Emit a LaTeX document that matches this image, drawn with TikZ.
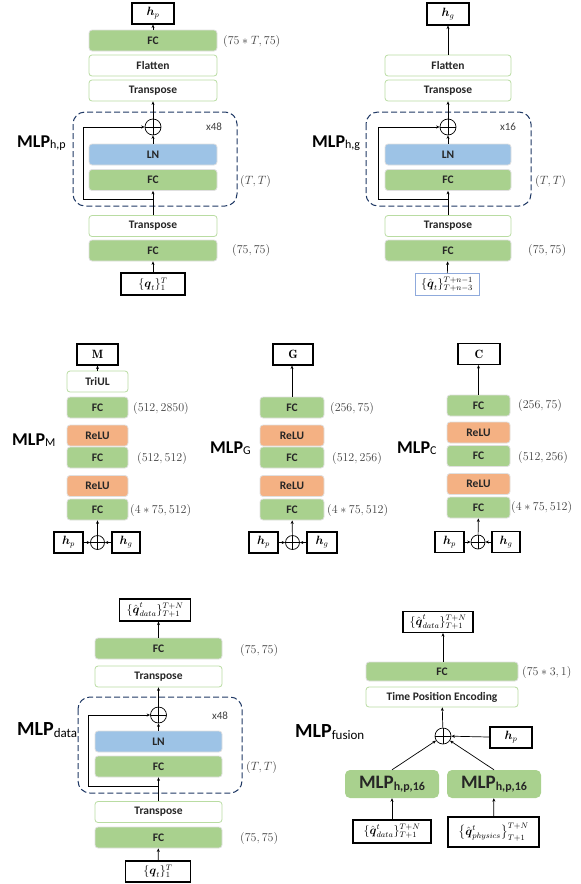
\documentclass[tikz,border=0pt]{standalone}
\usepackage{amsmath,amssymb}
\usepackage{fontspec}
\setsansfont{Carlito}
\usepackage{xcolor}
\usepackage{tikz}
\usetikzlibrary{arrows.meta,positioning}
\definecolor{fcgreen}{HTML}{A9D18E}
\definecolor{lnblue}{HTML}{9DC3E6}
\definecolor{reluorange}{HTML}{F4B183}
\definecolor{paleedge}{HTML}{B9DCA2}
\definecolor{inblue}{HTML}{8FAADC}
\definecolor{navy}{HTML}{1F3864}
\definecolor{dimtext}{HTML}{404040}
\newcommand\boxfont{\fontsize{11.5}{13}\selectfont\sffamily\bfseries}
\newcommand\mlplab[3]{{\fontsize{#1}{#1}\selectfont\sffamily\bfseries MLP}\raisebox{-0.35ex}{\fontsize{#2}{#2}\selectfont\sffamily #3}}
\tikzset{
  blk/.style={rectangle, rounded corners=3pt, inner sep=0pt, minimum height=21pt, font=\boxfont, text=black!85},
  fc/.style={blk, fill=fcgreen, draw=black!12, line width=0.8pt},
  ln/.style={blk, fill=lnblue, draw=black!12, line width=0.8pt},
  relu/.style={blk, fill=reluorange, draw=black!12, line width=0.8pt},
  wbox/.style={blk, fill=white, draw=paleedge, line width=0.8pt},
  outbox/.style={rectangle, draw=black, line width=1.1pt, fill=white, inner sep=0pt, minimum height=21pt, font=\fontsize{12}{14}\selectfont},
  addop/.style={circle, draw=black, line width=0.7pt, minimum size=16pt, inner sep=0pt,
    path picture={\draw[line width=0.7pt] (path picture bounding box.north) -- (path picture bounding box.south)
      (path picture bounding box.west) -- (path picture bounding box.east);}},
  arr/.style={-{Stealth[length=3.5pt,width=3pt]}, line width=0.7pt},
  loopbox/.style={draw=navy, line width=1pt, dash pattern=on 6pt off 3pt, rounded corners=12pt},
  dims/.style={anchor=west, inner sep=0pt, text=dimtext, font=\fontsize{12}{14}\selectfont},
  reps/.style={inner sep=0pt, text=dimtext, font=\fontsize{11}{13}\selectfont\sffamily},
  tag/.style={anchor=west, inner sep=0pt}
}
\begin{document}
\begin{tikzpicture}[x=1pt,y=-1pt]
\useasboundingbox (0,0) rectangle (581,884);

% MLP_{h,p}
\draw[loopbox] (73,112) rectangle (237,206);
\node[outbox, minimum width=42pt] (p1out) at (153,13.5) {$\boldsymbol{h}_p$};
\node[fc, minimum width=128pt] (p1fc3) at (153,40.5) {FC};
\node[wbox, minimum width=128pt] (p1flat) at (153,65.5) {Flatten};
\node[wbox, minimum width=128pt] (p1tr2) at (153,90.5) {Transpose};
\node[addop] (p1add) at (153,127) {};
\node[ln, minimum width=128pt] (p1ln) at (153,154.5) {LN};
\node[fc, minimum width=128pt] (p1fc2) at (153,180) {FC};
\node[wbox, minimum width=128pt] (p1tr1) at (153,226) {Transpose};
\node[fc, minimum width=128pt] (p1fc1) at (153,250.5) {FC};
\node[outbox, minimum width=64pt, minimum height=22pt] (p1in) at (153,284) {$\{\boldsymbol{q}_t\}_1^T$};
\coordinate (p1split) at (153,199);
\coordinate (p1loop) at (83,199);
\node[reps] (p1rep) at (214,127) {x48};
\node[tag] (p1name) at (17,143) {\mlplab{18}{12}{h,p}};
\node[dims] (p1d3) at (223,41) {$(75*T,75)$};
\node[dims] (p1d2) at (240,181) {$(T,T)$};
\node[dims] (p1d1) at (232,250) {$(75,75)$};
\draw[arr] (p1in) -- (p1fc1);
\draw[arr] (p1tr1) -- (p1fc2);
\draw[arr] (p1split) -- (p1loop) |- (p1add.west);
\draw[arr] (p1ln) -- (p1add);
\draw[arr] (p1add) -- (p1tr2);
\draw[arr] (p1fc3) -- (p1out);

% MLP_{h,g}
\draw[loopbox] (366,112) rectangle (531,206);
\node[outbox, minimum width=42pt, minimum height=22pt] (p2out) at (448,14) {$\boldsymbol{h}_g$};
\node[wbox, minimum width=126pt] (p2flat) at (448,65.5) {Flatten};
\node[wbox, minimum width=126pt] (p2tr2) at (448,90.5) {Transpose};
\node[addop] (p2add) at (448,127) {};
\node[ln, minimum width=126pt] (p2ln) at (448,154.5) {LN};
\node[fc, minimum width=126pt] (p2fc2) at (448,180) {FC};
\node[wbox, minimum width=126pt] (p2tr1) at (448,226) {Transpose};
\node[fc, minimum width=126pt] (p2fc1) at (448,250.5) {FC};
\node[outbox, draw=inblue, line width=0.9pt, minimum width=64pt, minimum height=22pt] (p2in) at (447,284.5) {$\{\hat{\boldsymbol{q}}_t\}_{T+n-3}^{T+n-1}$};
\coordinate (p2split) at (448,199);
\coordinate (p2loop) at (378,199);
\node[reps] (p2rep) at (508,127) {x16};
\node[tag] (p2name) at (312,143) {\mlplab{18}{12}{h,g}};
\node[dims] (p2d2) at (535,181) {$(T,T)$};
\node[dims] (p2d1) at (528,250) {$(75,75)$};
\draw[arr] (p2in) -- (p2fc1);
\draw[arr] (p2tr1) -- (p2fc2);
\draw[arr] (p2split) -- (p2loop) |- (p2add.west);
\draw[arr] (p2ln) -- (p2add);
\draw[arr] (p2add) -- (p2tr2);
\draw[arr] (p2flat) -- (p2out);

% MLP_M
\node[outbox, minimum width=41pt] (p3out) at (97.5,354.5) {$\mathbf{M}$};
\node[wbox, minimum width=61pt] (p3tri) at (97.5,381.5) {TriUL};
\node[fc, minimum width=61pt] (p3fc3) at (97.5,407.5) {FC};
\node[relu, minimum width=61pt] (p3relu2) at (97.5,435.5) {ReLU};
\node[fc, minimum width=61pt] (p3fc2) at (97.5,457.5) {FC};
\node[relu, minimum width=61pt] (p3relu1) at (97.5,486) {ReLU};
\node[fc, minimum width=61pt] (p3fc1) at (97.5,509.5) {FC};
\node[addop, minimum size=14pt] (p3add) at (97.5,542.5) {};
\node[outbox, minimum width=29pt] (p3hp) at (68.5,542.5) {$\boldsymbol{h}_p$};
\node[outbox, minimum width=28pt] (p3hg) at (126,542.5) {$\boldsymbol{h}_g$};
\node[tag] (p3name) at (12,440) {\mlplab{18}{12}{M}};
\node[dims] (p3d3) at (133,408) {$(512,2850)$};
\node[dims] (p3d2) at (137,458) {$(512,512)$};
\node[dims] (p3d1) at (130,510) {$(4*75,512)$};
\draw[arr] (p3hp) -- (p3add);
\draw[arr] (p3hg) -- (p3add);
\draw[arr] (p3add) -- (p3fc1);
\draw[arr] (p3tri) -- (p3out);

% MLP_G
\node[outbox, minimum width=40pt] (p4out) at (293,354.5) {$\mathbf{G}$};
\node[fc, minimum width=64pt] (p4fc3) at (292,407.5) {FC};
\node[relu, minimum width=64pt] (p4relu2) at (292,435.5) {ReLU};
\node[fc, minimum width=64pt] (p4fc2) at (292,457.5) {FC};
\node[relu, minimum width=64pt] (p4relu1) at (292,486) {ReLU};
\node[fc, minimum width=64pt] (p4fc1) at (292,509.5) {FC};
\node[addop, minimum size=14pt] (p4add) at (292.5,542.5) {};
\node[outbox, minimum width=29pt] (p4hp) at (263.5,542.5) {$\boldsymbol{h}_p$};
\node[outbox, minimum width=30pt] (p4hg) at (322,542.5) {$\boldsymbol{h}_g$};
\node[tag] (p4name) at (210,448) {\mlplab{18}{12}{G}};
\node[dims] (p4d3) at (330,408) {$(256,75)$};
\node[dims] (p4d2) at (332,458) {$(512,256)$};
\node[dims] (p4d1) at (327,510) {$(4*75,512)$};
\draw[arr] (p4hp) -- (p4add);
\draw[arr] (p4hg) -- (p4add);
\draw[arr] (p4add) -- (p4fc1);
\draw[arr] (p4fc3) -- (p4fc3 |- p4out.south);

% MLP_C
\node[outbox, minimum width=42pt] (p5out) at (479,354) {$\mathbf{C}$};
\node[fc, minimum width=63pt] (p5fc3) at (478.5,405.5) {FC};
\node[relu, minimum width=63pt] (p5relu2) at (478.5,432.5) {ReLU};
\node[fc, minimum width=63pt] (p5fc2) at (478.5,456) {FC};
\node[relu, minimum width=63pt] (p5relu1) at (478.5,484) {ReLU};
\node[fc, minimum width=63pt] (p5fc1) at (478.5,507.5) {FC};
\node[addop, minimum size=14pt] (p5add) at (478,542) {};
\node[outbox, minimum width=29pt] (p5hp) at (449.5,542) {$\boldsymbol{h}_p$};
\node[outbox, minimum width=28pt] (p5hg) at (506,542) {$\boldsymbol{h}_g$};
\node[tag] (p5name) at (397,448) {\mlplab{18}{12}{C}};
\node[dims] (p5d3) at (518,405) {$(256,75)$};
\node[dims] (p5d2) at (518,457) {$(512,256)$};
\node[dims] (p5d1) at (511,507) {$(4*75,512)$};
\draw[arr] (p5hp) -- (p5add);
\draw[arr] (p5hg) -- (p5add);
\draw[arr] (p5add) -- (p5fc1);
\draw[arr] (p5fc3) -- (p5fc3 |- p5out.south);

% MLP_data
\draw[loopbox] (78,697) rectangle (242,793);
\node[outbox, minimum width=71pt, minimum height=22pt] (p6out) at (155,610) {$\{\hat{\boldsymbol{q}}^t_{data}\}_{T+1}^{T+N}$};
\node[fc, minimum width=127pt] (p6fc3) at (158.5,648.5) {FC};
\node[wbox, minimum width=127pt] (p6tr2) at (158.5,676.5) {Transpose};
\node[addop] (p6add) at (158.5,715) {};
\node[ln, minimum width=127pt] (p6ln) at (158.5,741.5) {LN};
\node[fc, minimum width=127pt] (p6fc2) at (158.5,766.5) {FC};
\node[wbox, minimum width=127pt] (p6tr1) at (158.5,812) {Transpose};
\node[fc, minimum width=127pt] (p6fc1) at (158.5,837.5) {FC};
\node[outbox, minimum width=65pt] (p6in) at (158,871.5) {$\{\boldsymbol{q}_t\}_1^T$};
\coordinate (p6split) at (158.5,786);
\coordinate (p6loop) at (88,786);
\node[reps] (p6rep) at (220,716) {x48};
\node[tag] (p6name) at (17,730) {\mlplab{20}{13}{data}};
\node[dims] (p6d3) at (240,650) {$(75,75)$};
\node[dims] (p6d2) at (246,767) {$(T,T)$};
\node[dims] (p6d1) at (240,838) {$(75,75)$};
\draw[arr] (p6in) -- (p6fc1);
\draw[arr] (p6tr1) -- (p6fc2);
\draw[arr] (p6split) -- (p6loop) |- (p6add.west);
\draw[arr] (p6ln) -- (p6add);
\draw[arr] (p6add) -- (p6tr2);
\draw[arr] (p6fc3) -- (p6fc3 |- p6out.south);

% MLP_fusion
\node[outbox, minimum width=70pt] (p7out) at (438,622) {$\{\hat{\boldsymbol{q}}^t_{data}\}_{T+1}^{T+N}$};
\node[fc, minimum width=152pt, minimum height=19pt] (p7fc) at (442,671.5) {FC};
\node[wbox, minimum width=152pt, minimum height=20pt] (p7tpe) at (442,697) {Time Position Encoding};
\node[addop] (p7add) at (443,736) {};
\node[outbox, minimum width=42pt] (p7hp) at (511,737.5) {$\boldsymbol{h}_p$};
\node[blk, fill=fcgreen, rounded corners=5pt, minimum width=94pt, minimum height=28pt] (p7mlpa) at (392,784) {\mlplab{19}{12}{h,p,16}};
\node[blk, fill=fcgreen, rounded corners=5pt, minimum width=94pt, minimum height=28pt] (p7mlpb) at (494,784) {\mlplab{19}{12}{h,p,16}};
\node[outbox, minimum width=78pt, minimum height=23pt] (p7ina) at (392,831.5) {$\{\hat{\boldsymbol{q}}^t_{data}\}_{T+1}^{T+N}$};
\node[outbox, minimum width=91pt, minimum height=30pt] (p7inb) at (493.5,832) {$\big\{\hat{\boldsymbol{q}}^t_{physics}\big\}_{T+1}^{T+N}$};
\node[tag] (p7name) at (295,732) {\mlplab{20}{13}{fusion}};
\node[dims] (p7d) at (522,672) {$(75*3,1)$};
\coordinate (p7top) at (p7fc.north -| p7add);
\draw[arr] (p7ina) -- (p7mlpa);
\draw[arr] (p7inb) -- (p7mlpb);
\draw[arr] (p7mlpa.north) -- (p7add);
\draw[arr] (p7mlpb.north) -- (p7add);
\draw[arr] (p7hp) -- (p7add);
\draw[arr] (p7add) -- (p7tpe);
\draw[arr] (p7top) -- (p7top |- p7out.south);
\end{tikzpicture}
\end{document}
